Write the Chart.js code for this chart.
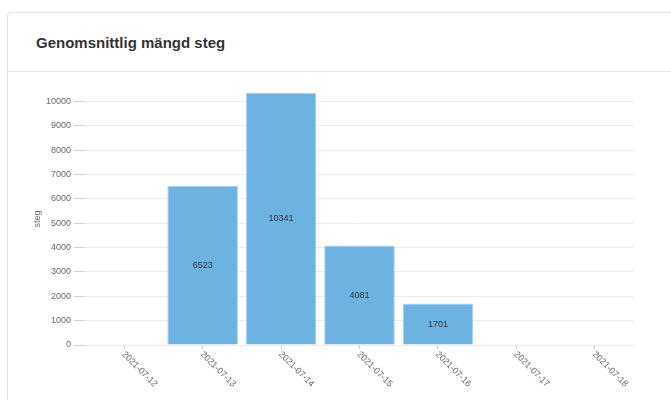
<!DOCTYPE html>
<html>
<head>
<meta charset="utf-8">
<script src="https://cdn.jsdelivr.net/npm/chart.js@4/dist/chart.umd.min.js"></script>
<style>
  body { margin: 0; background: #fff; font-family: "Liberation Sans", Arial, sans-serif; }
  .card {
    position: absolute; left: 7px; top: 12px; width: 720px; height: 420px;
    border: 1px solid #e4e4e4; border-radius: 4px; box-shadow: 0 0 3px rgba(0,0,0,0.05);
  }
  .card-header {
    height: 59px; border-bottom: 1px solid #e6e6e6;
    display: flex; align-items: center; padding-left: 28px; box-sizing: border-box;
  }
  .card-header h3 { margin: 0; font-size: 15px; font-weight: bold; color: #333; }
  #stepsChart { position: absolute; left: 0; top: 0; }
</style>
</head>
<body>
<div class="card">
  <div class="card-header"><h3>Genomsnittlig mängd steg</h3></div>
</div>
<canvas id="stepsChart" width="671" height="400"></canvas>
<script>
  const days = ['2021-07-12', '2021-07-13', '2021-07-14', '2021-07-15', '2021-07-16', '2021-07-17', '2021-07-18'];
  const avgSteps = [null, 6523, 10341, 4081, 1701, null, null];
  const stepTicks = [0, 1000, 2000, 3000, 4000, 5000, 6000, 7000, 8000, 9000, 10000];

  // value printed in the middle of every bar
  const barValues = {
      id: 'barValues',
      afterDatasetsDraw(chart) {
          const ctx = chart.ctx;
          const meta = chart.getDatasetMeta(0);
          ctx.save();
          ctx.font = '9px "Liberation Sans", Arial, sans-serif';
          ctx.fillStyle = '#333';
          ctx.textAlign = 'center';
          ctx.textBaseline = 'middle';
          meta.data.forEach((bar, i) => {
              const v = avgSteps[i];
              if (v == null) return;
              ctx.fillText(String(v), bar.x, (bar.y + bar.base) / 2);
          });
          ctx.restore();
      }
  };

  // dates slanted downwards to the right, starting at the tick
  const slantedDates = {
      id: 'slantedDates',
      afterDraw(chart) {
          const ctx = chart.ctx;
          const x = chart.scales.x;
          ctx.save();
          ctx.font = '9px "Liberation Sans", Arial, sans-serif';
          ctx.fillStyle = '#666';
          ctx.textAlign = 'left';
          ctx.textBaseline = 'middle';
          days.forEach((d, i) => {
              ctx.save();
              ctx.translate(x.getPixelForTick(i) - 1, x.top + 8);
              ctx.rotate(Math.PI / 4);
              ctx.fillText(d, 0, 0);
              ctx.restore();
          });
          ctx.restore();
      }
  };

  const stepsChart = new Chart(document.getElementById('stepsChart'), {
      type: 'bar',
      data: {
          labels: days,
          datasets: [{
              label: 'steg',
              data: avgSteps,
              backgroundColor: '#6cb3e2',
              borderColor: '#a6d1ee',
              borderWidth: 1,
              categoryPercentage: 1.0,
              barPercentage: 0.9
          }]
      },
      options: {
          responsive: false,
          animation: false,
          devicePixelRatio: 1,
          layout: { padding: { left: 28, right: 37, top: 93, bottom: 0 } },
          plugins: {
              legend: { display: false },
              tooltip: { enabled: false }
          },
          scales: {
              x: {
                  offset: true,
                  grid: { offset: false, drawOnChartArea: false, tickLength: 4, color: '#c8c8c8' },
                  border: { display: false },
                  ticks: { display: false },
                  afterFit(scale) { scale.height = 55; }
              },
              y: {
                  min: 0,
                  max: Math.max(...avgSteps),
                  grid: { color: '#ebebeb', tickColor: '#d0d0d0', tickLength: 11 },
                  border: { display: false },
                  ticks: {
                      stepSize: 1000,
                      color: '#666',
                      padding: 3,
                      font: { family: '"Liberation Sans", Arial, sans-serif', size: 9 },
                      callback: (value) => String(value)
                  },
                  title: {
                      display: true,
                      text: 'steg',
                      color: '#666',
                      font: { family: '"Liberation Sans", Arial, sans-serif', size: 9 }
                  },
                  afterBuildTicks(scale) {
                      scale.ticks = stepTicks.map(v => ({ value: v }));
                  },
                  afterFit(scale) { scale.width = 57; }
              }
          }
      },
      plugins: [barValues, slantedDates]
  });
</script>
</body>
</html>
